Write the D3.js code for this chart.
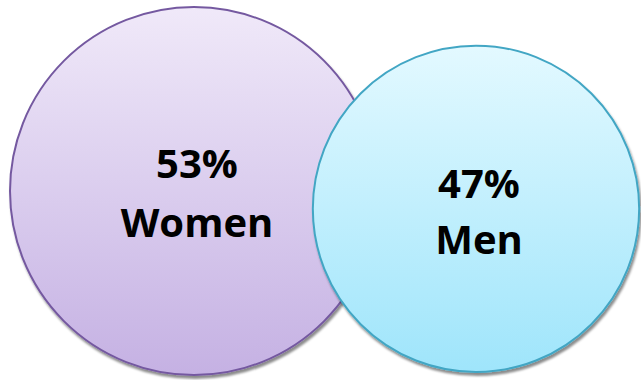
<!DOCTYPE html>
<html>
<head>
<meta charset="utf-8">
<script src="https://cdn.jsdelivr.net/npm/d3@7"></script>
<style>
  html, body { margin: 0; padding: 0; background: #fff; }
  svg { display: block; }
</style>
</head>
<body>
<div id="chart"></div>
<script>
// Share of respondents by gender
const categories = ["Women", "Men"];
const values = [53, 47];
const labels = ["53%", "47%"];

const width = 641, height = 380;

const svg = d3.select("#chart").append("svg")
  .attr("width", width)
  .attr("height", height);

const defs = svg.append("defs");

// vertical fills and outlines per circle
const palette = {
  Women: { top: "#f0e9f9", bottom: "#c5b1e3", stroke: "#7459a0" },
  Men:   { top: "#e3f9ff", bottom: "#9fe5fb", stroke: "#42a6c4" }
};

categories.forEach(c => {
  const g = defs.append("linearGradient")
    .attr("id", "grad-" + c)
    .attr("x1", 0).attr("y1", 0).attr("x2", 0).attr("y2", 1);
  g.append("stop").attr("offset", "0%").attr("stop-color", palette[c].top);
  g.append("stop").attr("offset", "100%").attr("stop-color", palette[c].bottom);
});

const shadow = defs.append("filter")
  .attr("id", "shadow")
  .attr("x", "-10%").attr("y", "-10%")
  .attr("width", "120%").attr("height", "120%");
shadow.append("feDropShadow")
  .attr("dx", 1.5).attr("dy", 3)
  .attr("stdDeviation", 1.2)
  .attr("flood-color", "#000")
  .attr("flood-opacity", 0.45);

// radius proportional to share
const r = d3.scaleLinear().domain([0, 53]).range([0, 184]);
const x = d3.scalePoint().domain(categories).range([194, 476]);
const baseline = { Women: 375, Men: 372 };

const data = categories.map((c, i) => ({
  cat: c, value: values[i], label: labels[i]
}));

const nodes = svg.selectAll("g.node")
  .data(data)
  .join("g")
  .attr("class", "node")
  .attr("transform", d => `translate(${x(d.cat)},${baseline[d.cat] - r(d.value)})`);

nodes.append("circle")
  .attr("r", d => r(d.value))
  .attr("fill", d => `url(#grad-${d.cat})`)
  .attr("stroke", d => palette[d.cat].stroke)
  .attr("stroke-width", 2)
  .attr("filter", "url(#shadow)");

const textPos = {
  Women: { dx: 3, y1: -13, y2: 46 },
  Men:   { dx: 3, y1: -11, y2: 45 }
};

nodes.append("text")
  .attr("x", d => textPos[d.cat].dx)
  .attr("y", d => textPos[d.cat].y1)
  .attr("text-anchor", "middle")
  .attr("font-family", "'Open Sans', sans-serif")
  .attr("font-weight", 700)
  .attr("font-size", 40)
  .attr("fill", "#000")
  .text(d => d.label);

nodes.append("text")
  .attr("x", d => textPos[d.cat].dx)
  .attr("y", d => textPos[d.cat].y2)
  .attr("text-anchor", "middle")
  .attr("font-family", "'Open Sans', sans-serif")
  .attr("font-weight", 700)
  .attr("font-size", 40)
  .attr("fill", "#000")
  .text(d => d.cat);
</script>
</body>
</html>
